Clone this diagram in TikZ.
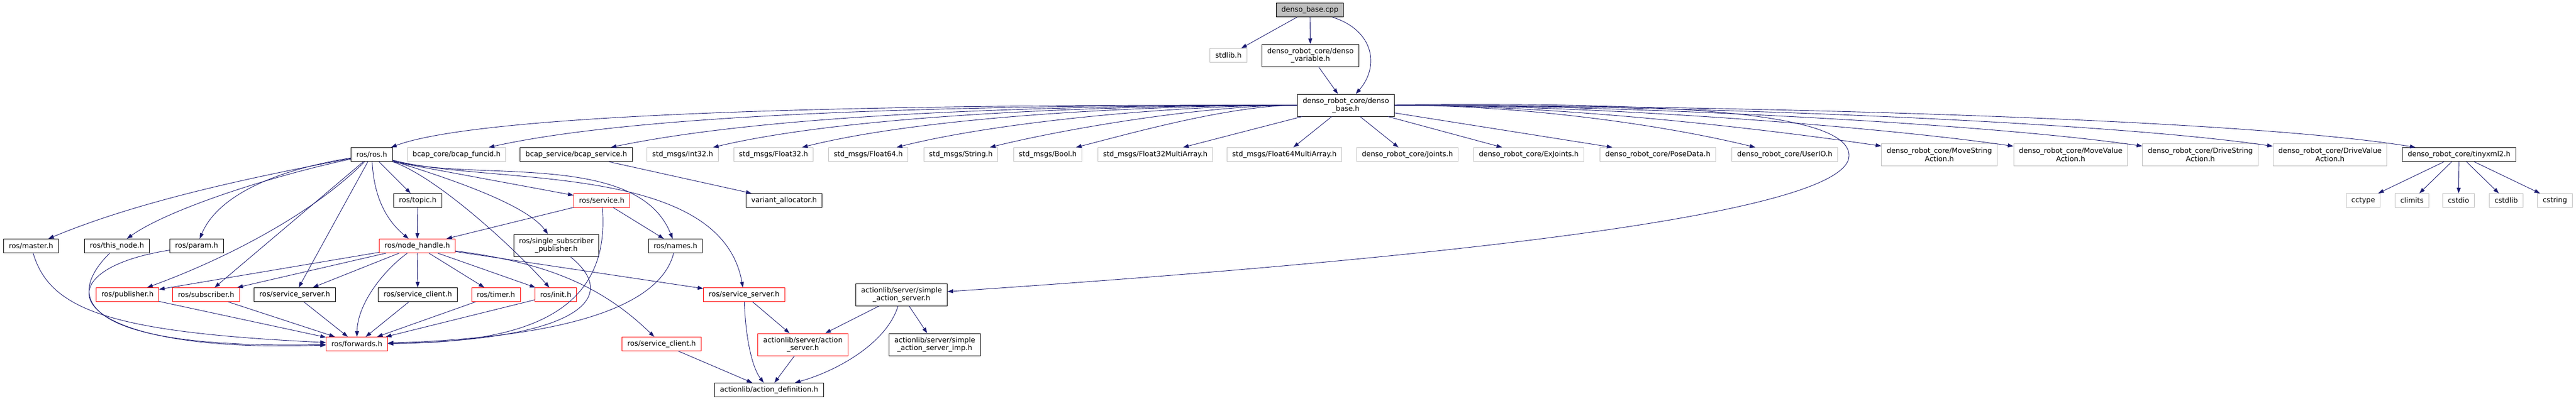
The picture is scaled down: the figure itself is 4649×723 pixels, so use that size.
\documentclass[tikz,border=0pt]{standalone}
\usepackage{fontspec}
\setmainfont{DejaVu Sans}
\usetikzlibrary{arrows.meta}
\definecolor{edgeblue}{HTML}{191970}
\definecolor{nodegray}{HTML}{BFBFBF}

\begin{document}
\begin{tikzpicture}[x=1pt,y=1pt,
  box/.style={draw=black,line width=1pt,fill=white,inner xsep=9.5pt,inner ysep=0pt,
    minimum height=25pt,align=center,font=\fontsize{12.8}{14.5}\selectfont},
  trunc/.style={box,draw=red},
  ext/.style={box,draw=nodegray},
  two/.style={minimum height=40pt},
  dep/.style={draw=edgeblue,line width=0.9pt,-{Triangle[length=10pt,width=7pt]}}]
\useasboundingbox (0,0) rectangle (4649,-723);

% top
\node[box,fill=nodegray] (cpp) at (2364,-18) {denso\_base.cpp};
\node[ext] (stdlibh) at (2217,-100) {stdlib.h};
\node[box,two] (variable) at (2365,-100) {denso\_robot\_core/denso\\\_variable.h};
\node[box,two] (base) at (2429,-190) {denso\_robot\_core/denso\\\_base.h};

% row of includes of denso_base.h
\node[box] (ros) at (671,-279) {ros/ros.h};
\node[ext] (funcid) at (824,-279) {bcap\_core/bcap\_funcid.h};
\node[box] (bcapsrv) at (1040,-279) {bcap\_service/bcap\_service.h};
\node[ext] (int32) at (1232,-279) {std\_msgs/Int32.h};
\node[ext] (float32) at (1396,-279) {std\_msgs/Float32.h};
\node[ext] (float64) at (1567,-279) {std\_msgs/Float64.h};
\node[ext] (string) at (1734,-279) {std\_msgs/String.h};
\node[ext] (bool) at (1891,-279) {std\_msgs/Bool.h};
\node[ext] (fma32) at (2085,-279) {std\_msgs/Float32MultiArray.h};
\node[ext] (fma64) at (2318,-279) {std\_msgs/Float64MultiArray.h};
\node[ext] (joints) at (2540,-279) {denso\_robot\_core/Joints.h};
\node[ext] (exjoints) at (2759,-279) {denso\_robot\_core/ExJoints.h};
\node[ext] (posedata) at (2992,-279) {denso\_robot\_core/PoseData.h};
\node[ext] (userio) at (3221,-279) {denso\_robot\_core/UserIO.h};
\node[ext,two] (movestr) at (3500,-279) {denso\_robot\_core/MoveString\\Action.h};
\node[ext,two] (moveval) at (3737,-279) {denso\_robot\_core/MoveValue\\Action.h};
\node[ext,two] (drivestr) at (3971,-279) {denso\_robot\_core/DriveString\\Action.h};
\node[ext,two] (driveval) at (4205,-279) {denso\_robot\_core/DriveValue\\Action.h};
\node[box] (tinyxml) at (4438,-279) {denso\_robot\_core/tinyxml2.h};

\node[box] (topic) at (754,-362) {ros/topic.h};
\node[trunc] (service) at (1086,-362) {ros/service.h};
\node[box] (variant) at (1415,-362) {variant\_allocator.h};
\node[ext] (cctype) at (4265,-362) {cctype};
\node[ext] (climits) at (4353,-362) {climits};
\node[ext] (cstdio) at (4437,-362) {cstdio};
\node[ext] (cstdlib) at (4523,-362) {cstdlib};
\node[ext] (cstring) at (4611,-362) {cstring};

\node[box] (master) at (56,-444) {ros/master.h};
\node[box] (thisnode) at (211,-444) {ros/this\_node.h};
\node[box] (param) at (355,-444) {ros/param.h};
\node[trunc] (nodehandle) at (753,-444) {ros/node\_handle.h};
\node[box,two] (singlesub) at (1004,-443) {ros/single\_subscriber\\\_publisher.h};
\node[box] (names) at (1219,-444) {ros/names.h};

\node[trunc] (publisher) at (230,-532) {ros/publisher.h};
\node[trunc] (subscriber) at (372,-532) {ros/subscriber.h};
\node[box] (srvserver) at (532,-532) {ros/service\_server.h};
\node[box] (srvclient) at (754,-532) {ros/service\_client.h};
\node[trunc] (timer) at (895,-532) {ros/timer.h};
\node[trunc] (init) at (1003,-532) {ros/init.h};
\node[trunc] (rsrvserver) at (1343,-532) {ros/service\_server.h};
\node[box,two] (sas) at (1627,-532) {actionlib/server/simple\\\_action\_server.h};

\node[trunc] (forwards) at (644,-621) {ros/forwards.h};
\node[trunc] (rsrvclient) at (1194,-621) {ros/service\_client.h};
\node[trunc,two] (actserver) at (1449,-622) {actionlib/server/action\\\_server.h};
\node[box,two] (sasimp) at (1687,-622) {actionlib/server/simple\\\_action\_server\_imp.h};
\node[box] (actdef) at (1388,-704) {actionlib/action\_definition.h};

% denso_base.cpp
\draw[dep] (cpp) -- (stdlibh);
\draw[dep] (cpp) -- (variable);
\draw[dep] (cpp) .. controls (2480,-55) and (2490,-120) .. (base);
\draw[dep] (variable) -- (base);

% denso_base.h
\draw[dep] (base) .. controls (2097,-190) and (925,-184) .. (ros);
\foreach \n/\a/\b/\c in {funcid/1900/1200/195,bcapsrv/1970/1420/200,int32/2020/1545/205,
  float32/2070/1670/210,float64/2120/1800/220,string/2170/1920/233,bool/2220/2040/241} {
\draw[dep] (base) .. controls (\a,-190) and (\b,-\c) .. (\n);
}
\foreach \n in {fma32,fma64,joints,exjoints,posedata} {
\draw[dep] (base) -- (\n);
}
\foreach \n/\a/\b/\c in {userio/2750/3000/225,movestr/2830/3200/235,moveval/2900/3400/230,
  drivestr/2980/3600/225,driveval/3060/3800/220,tinyxml/3150/4050/215} {
\draw[dep] (base) .. controls (\a,-190) and (\b,-\c) .. (\n);
}
\draw[dep] (base) .. controls (3000,-185) and (3337,-200) .. (3337,-281)
  .. controls (3337,-400) and (2400,-480) .. (sas);

\draw[dep] (bcapsrv) -- (variant);
\foreach \n in {cctype,climits,cstdio,cstdlib,cstring} {
\draw[dep] (tinyxml) -- (\n);
}

% ros/ros.h
\draw[dep] (ros) .. controls (431,-324) and (241,-367) .. (master);
\draw[dep] (ros) .. controls (480,-320) and (300,-380) .. (thisnode);
\draw[dep] (ros) .. controls (480,-310) and (390,-360) .. (param);
\draw[dep] (ros) .. controls (560,-390) and (400,-470) .. (publisher);
\draw[dep] (ros) -- (subscriber);
\draw[dep] (ros) -- (srvserver);
\draw[dep] (ros) .. controls (675,-360) and (700,-400) .. (nodehandle);
\draw[dep] (ros) -- (topic);
\draw[dep] (ros) .. controls (790,-320) and (930,-450) .. (init);
\draw[dep] (ros) .. controls (820,-325) and (950,-370) .. (singlesub);
\draw[dep] (ros.south east) -- (service);
\draw[dep] (ros) .. controls (850,-330) and (1150,-270) .. (names);
\draw[dep] (ros) .. controls (880,-335) and (1300,-290) .. (rsrvserver);

\draw[dep] (topic) -- (nodehandle);
\draw[dep] (service) -- (nodehandle);
\draw[dep] (service) -- (names);

% ros/node_handle.h
\foreach \n in {publisher,subscriber,srvserver,srvclient,timer,init,rsrvserver} {
\draw[dep] (nodehandle) -- (\n);
}
\draw[dep] (nodehandle) .. controls (690,-490) and (645,-550) .. (forwards);
\draw[dep] (nodehandle) .. controls (975,-473) and (1080,-510) .. (rsrvclient);

% into ros/forwards.h
\foreach \n in {publisher,subscriber,srvserver,srvclient,timer,init} {
\draw[dep] (\n) -- (forwards);
}
\draw[dep] (master) .. controls (90,-560) and (200,-600) .. (forwards);
\draw[dep] (thisnode) .. controls (95,-560) and (200,-630) .. (forwards);
\draw[dep] (param) .. controls (60,-490) and (110,-640) .. (forwards);
\draw[dep] (singlesub) .. controls (1130,-545) and (1020,-615) .. (forwards);
\draw[dep] (service) .. controls (1105,-590) and (900,-618) .. (forwards);
\draw[dep] (names) .. controls (1190,-560) and (1000,-610) .. (forwards);

% actionlib
\draw[dep] (rsrvserver) .. controls (1345,-600) and (1355,-660) .. (actdef);
\draw[dep] (rsrvserver) -- (actserver);
\draw[dep] (rsrvclient) -- (actdef);
\draw[dep] (actserver) -- (actdef);
\draw[dep] (sas) -- (actserver);
\draw[dep] (sas) .. controls (1600,-620) and (1510,-670) .. (actdef);
\draw[dep] (sas) -- (sasimp);

\end{tikzpicture}
\end{document}
